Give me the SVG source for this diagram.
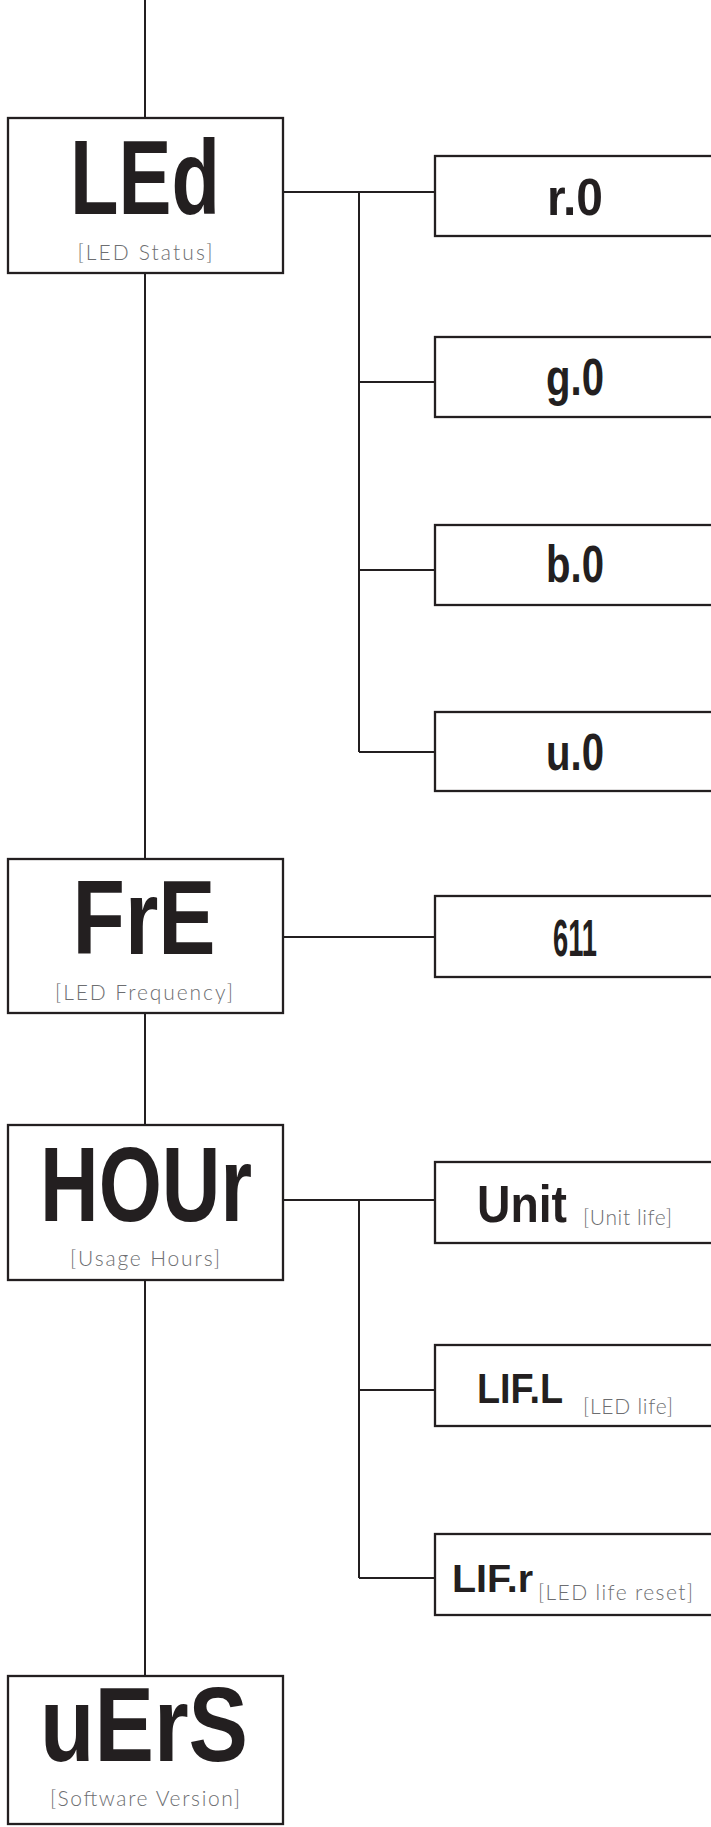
<svg xmlns="http://www.w3.org/2000/svg" width="711" height="1827" viewBox="0 0 711 1827">
<style>
.box{fill:#fff;stroke:#231f20;stroke-width:2.3}
.con{fill:none;stroke:#231f20;stroke-width:2}
.seg{font-family:"Liberation Sans Narrow","Liberation Sans",sans-serif;font-weight:bold;fill:#231f20}
.m{text-anchor:middle}
.lbl{font-family:Lato,"Open Sans","Liberation Sans",sans-serif;font-weight:300;font-size:21px;fill:#6d6e71}
</style>
<rect width="711" height="1827" fill="#fff"/>
<g id="connectors">
<path class="con" d="M145,0 V118 M145,273 V859 M145,1013 V1125 M145,1280 V1676"/>
<path class="con" d="M283,192 H435 M359,192 V752 M359,382 H435 M359,570 H435 M359,752 H435"/>
<path class="con" d="M283,937 H435"/>
<path class="con" d="M283,1200 H435 M359,1200 V1578 M359,1390 H435 M359,1578 H435"/>
</g>
<g id="node-led">
<rect class="box" x="8" y="118" width="275" height="155"/>
<text class="seg m" x="145" y="214" font-size="106" textLength="150" lengthAdjust="spacingAndGlyphs">LEd</text>
<text class="lbl m" x="145" y="260" textLength="135" lengthAdjust="spacing">[LED Status]</text>
</g>
<g id="node-r0">
<rect class="box" x="435" y="156" width="300" height="80"/>
<text class="seg m" x="575" y="215" font-size="52" textLength="56" lengthAdjust="spacingAndGlyphs">r.0</text>
</g>
<g id="node-g0">
<rect class="box" x="435" y="337" width="300" height="80"/>
<text class="seg m" x="575" y="395" font-size="52" textLength="58" lengthAdjust="spacingAndGlyphs">g.0</text>
</g>
<g id="node-b0">
<rect class="box" x="435" y="525" width="300" height="80"/>
<text class="seg m" x="575" y="582" font-size="52" textLength="58" lengthAdjust="spacingAndGlyphs">b.0</text>
</g>
<g id="node-u0">
<rect class="box" x="435" y="712" width="300" height="79"/>
<text class="seg m" x="575" y="770" font-size="52" textLength="58" lengthAdjust="spacingAndGlyphs">u.0</text>
</g>
<g id="node-fre">
<rect class="box" x="8" y="859" width="275" height="154"/>
<text class="seg m" x="144" y="954" font-size="106" textLength="143" lengthAdjust="spacingAndGlyphs">FrE</text>
<text class="lbl m" x="144" y="1000" textLength="178" lengthAdjust="spacing">[LED Frequency]</text>
</g>
<g id="node-611">
<rect class="box" x="435" y="896" width="300" height="81"/>
<text class="seg m" x="575" y="956" font-size="52" textLength="44" lengthAdjust="spacingAndGlyphs">611</text>
</g>
<g id="node-hour">
<rect class="box" x="8" y="1125" width="275" height="155"/>
<text class="seg m" x="146" y="1221" font-size="106" textLength="212" lengthAdjust="spacingAndGlyphs">HOUr</text>
<text class="lbl m" x="145" y="1266" textLength="150" lengthAdjust="spacing">[Usage Hours]</text>
</g>
<g id="node-unit">
<rect class="box" x="435" y="1162" width="300" height="81"/>
<text class="seg" x="477" y="1222" font-size="52" textLength="90" lengthAdjust="spacingAndGlyphs">Unit</text>
<text class="lbl" x="583" y="1225" textLength="89" lengthAdjust="spacing">[Unit life]</text>
</g>
<g id="node-lifl">
<rect class="box" x="435" y="1345" width="300" height="81"/>
<text class="seg" x="477" y="1403" font-size="42" textLength="86" lengthAdjust="spacingAndGlyphs">LIF.L</text>
<text class="lbl" x="583" y="1414" textLength="90" lengthAdjust="spacing">[LED life]</text>
</g>
<g id="node-lifr">
<rect class="box" x="435" y="1534" width="300" height="81"/>
<text class="seg" x="452" y="1592" font-size="39" textLength="81" lengthAdjust="spacingAndGlyphs">LIF.r</text>
<text class="lbl" x="538" y="1600" textLength="155" lengthAdjust="spacing">[LED life reset]</text>
</g>
<g id="node-vers">
<rect class="box" x="8" y="1676" width="275" height="148"/>
<text class="seg m" x="144" y="1761" font-size="106" textLength="208" lengthAdjust="spacingAndGlyphs">uErS</text>
<text class="lbl m" x="145" y="1806" textLength="190" lengthAdjust="spacing">[Software Version]</text>
</g>
</svg>
